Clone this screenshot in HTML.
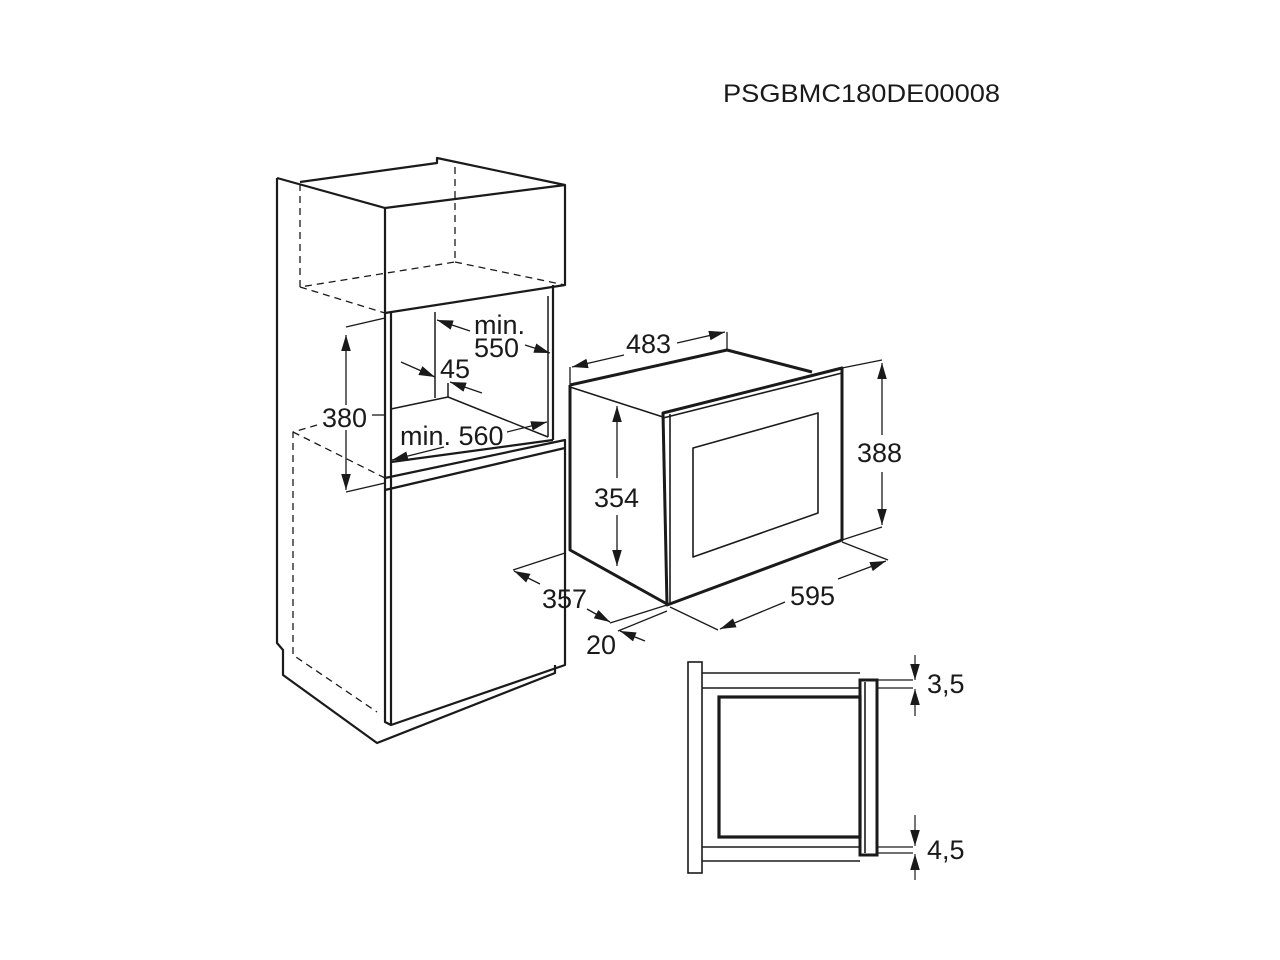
<!DOCTYPE html>
<html><head><meta charset="utf-8"><style>
html,body{margin:0;padding:0;background:#fff;}
svg{display:block;}
text{font-family:"Liberation Sans",Arial,sans-serif;font-size:27px;fill:#1a1a1a;}
</style></head><body>
<svg width="1280" height="960" viewBox="0 0 1280 960" xmlns="http://www.w3.org/2000/svg">
<defs>
<marker id="a" viewBox="0 0 15 9" refX="15" refY="4.5" markerWidth="16" markerHeight="10" markerUnits="userSpaceOnUse" orient="auto-start-reverse">
<path d="M0,0 L15,4.5 L0,9 z" fill="#1a1a1a"/></marker>
</defs>
<text x="723" y="102" style="font-size:25px" textLength="277" lengthAdjust="spacingAndGlyphs">PSGBMC180DE00008</text>

<g fill="none" stroke="#1a1a1a" stroke-linejoin="round">
<g stroke-dasharray="7,5" stroke-width="1.3">
<path d="M300,184 V287 L455,262 V163"/>
<path d="M300,287 L385,313"/>
<path d="M455,262 L565,285"/>
<path d="M317,425 L293,432 V655 L377,712"/>
<path d="M293,432 L385,478"/>
</g>
<g stroke-width="2.2">
<path d="M277,178 V643 L283,650 V675 L377,743 L555,673 V665"/>
<path d="M277,178 L385,208"/>
<path d="M300,182 L437,163 V158 L565,185 L385,208"/>
<path d="M565,185 V285 L385,313"/>
<path d="M385,208 V722 L391,725 L565,665 V448 L385,490"/>
<path d="M391,313 V725"/>
<path d="M553,285 V440"/>
<path d="M385,478 L565,440 V448"/>
<path d="M391,462 L553,440"/>
</g>
<g stroke-width="1.5">
<path d="M435,312 V398"/>
<path d="M391,409 L448,397 L548,437"/>
<path d="M448,397 V383"/>
<path d="M548,296 V437"/>
</g>
<g stroke-width="1.3">
<path d="M346,327 L385,318"/>
<path d="M346,492 L385,483"/>
<path d="M346,335 V405" marker-start="url(#a)"/>
<path d="M346,430 V490" marker-end="url(#a)"/>
<path d="M372,415 H385"/>
<path d="M470,331 L437,320" marker-end="url(#a)"/>
<path d="M525,345 L550,353" marker-end="url(#a)"/>
<path d="M401,362 L435,377" marker-end="url(#a)"/>
<path d="M482,393 L450,382" marker-end="url(#a)"/>
<path d="M507,432 L547,422" marker-end="url(#a)"/>
<path d="M444,447 L392,460" marker-end="url(#a)"/>
</g>
</g>
<text x="474" y="334">min.</text>
<text x="474" y="357">550</text>
<text x="440" y="378">45</text>
<text x="322" y="427">380</text>
<text x="400" y="445">min. 560</text>

<g fill="none" stroke="#1a1a1a" stroke-linejoin="round">
<g stroke-width="3">
<path d="M570,385 L727,350 L812,372"/>
<path d="M570,385 V550 L667,604"/>
<path d="M663,413 L842,368 V540 L667,605 Z"/>
</g>
<g stroke-width="1.6">
<path d="M570,387 L663,417"/>
<path d="M670,414 V603"/>
<path d="M693,448 L818,413 V513 L693,557 Z"/>
<path d="M663,418 L842,373"/>
</g>
<g stroke-width="1.3">
<path d="M570,367 V385 M727,332 V350"/>
<path d="M624,355 L572,367" marker-end="url(#a)"/>
<path d="M677,343 L725,332" marker-end="url(#a)"/>
<path d="M617,478 V406" marker-end="url(#a)"/>
<path d="M617,515 V566" marker-end="url(#a)"/>
<path d="M842,368 L882,360 M842,540 L882,527"/>
<path d="M882,435 V363" marker-end="url(#a)"/>
<path d="M882,472 V525" marker-end="url(#a)"/>
<path d="M842,542 L888,560 M670,607 L718,630"/>
<path d="M838,579 L886,561" marker-end="url(#a)"/>
<path d="M785,602 L720,629" marker-end="url(#a)"/>
<path d="M565,553 L513,570 M565,553 V582 M565,612 V660"/>
<path d="M540,584 L514,571" marker-end="url(#a)"/>
<path d="M587,609 L610,622" marker-end="url(#a)"/>
<path d="M610,623 L667,605 M618,631 L667,611"/>
<path d="M645,641 L620,631" marker-end="url(#a)"/>
</g>
</g>
<text x="626" y="353">483</text>
<text x="594" y="507">354</text>
<text x="857" y="462">388</text>
<text x="790" y="605">595</text>
<text x="542" y="608">357</text>
<text x="586" y="654">20</text>

<g fill="none" stroke="#1a1a1a">
<g stroke-width="1.6">
<rect x="688" y="662" width="14" height="211"/>
<path d="M702,673 H860 M702,688 H860 M702,847 H860 M702,861 H860"/>
<path d="M865,682 V853"/>
</g>
<rect x="719" y="697" width="141" height="140" stroke-width="3.2"/>
<rect x="860" y="680" width="17" height="175" stroke-width="3"/>
<g stroke-width="1.2">
<path d="M877,680 H913 M877,688 H913 M877,847 H913 M877,853 H913"/>
<path d="M915,655 V680" marker-end="url(#a)"/>
<path d="M915,716 V689" marker-end="url(#a)"/>
<path d="M915,815 V846" marker-end="url(#a)"/>
<path d="M915,880 V854" marker-end="url(#a)"/>
</g>
</g>
<text x="927" y="693">3,5</text>
<text x="927" y="859">4,5</text>
</svg>
</body></html>
